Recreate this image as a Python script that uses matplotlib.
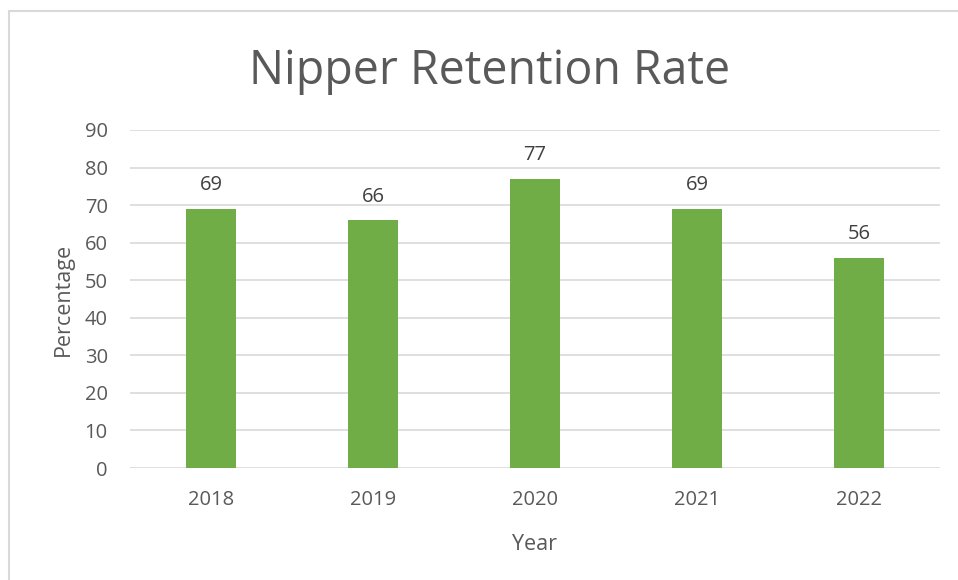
import matplotlib.pyplot as plt
from matplotlib.patches import Rectangle

years = ['2018', '2019', '2020', '2021', '2022']
retention = [69, 66, 77, 69, 56]

plt.rcParams['font.family'] = ['Open Sans', 'DejaVu Sans']
grey = '#595959'

fig = plt.figure(figsize=(9.58, 5.8), dpi=100)
ax = fig.add_axes([0.1357, 0.1931, 0.8455, 0.5828])

# chart border (only the top and left edges are visible in the picture)
fig.patches.append(Rectangle((9 / 958, -0.05), 1.2, 1 - 11 / 580 + 0.05, transform=fig.transFigure,
                             fill=False, edgecolor='#d9d9d9', linewidth=1.5))

x = range(len(years))
bars = ax.bar(x, retention, width=0.31, color='#70ad47', zorder=3)
for b, v in zip(bars, retention):
    ax.text(b.get_x() + b.get_width() / 2, v + 3.6, str(v), ha='center', va='bottom',
            fontsize=14.5, color='#404040')

ax.set_xlim(-0.5, len(years) - 0.5)
ax.set_ylim(0, 90)
ax.set_yticks(range(0, 91, 10))
ax.set_xticks(list(x))
ax.set_xticklabels(years)
ax.grid(axis='y', color='#d9d9d9', linewidth=1.2, zorder=0)
ax.tick_params(length=0, labelsize=14.5, labelcolor=grey)
ax.tick_params(axis='y', pad=16)
ax.tick_params(axis='x', pad=16)
for s in ax.spines.values():
    s.set_visible(False)

ax.set_xlabel('Year', fontsize=15.5, color=grey, labelpad=17)
ax.set_ylabel('Percentage', fontsize=15.5, color=grey, labelpad=8)
fig.text(0.511, 0.877, 'Nipper Retention Rate', ha='center', va='center', fontsize=33.5, color=grey)

fig.savefig('out.png', dpi=100)
